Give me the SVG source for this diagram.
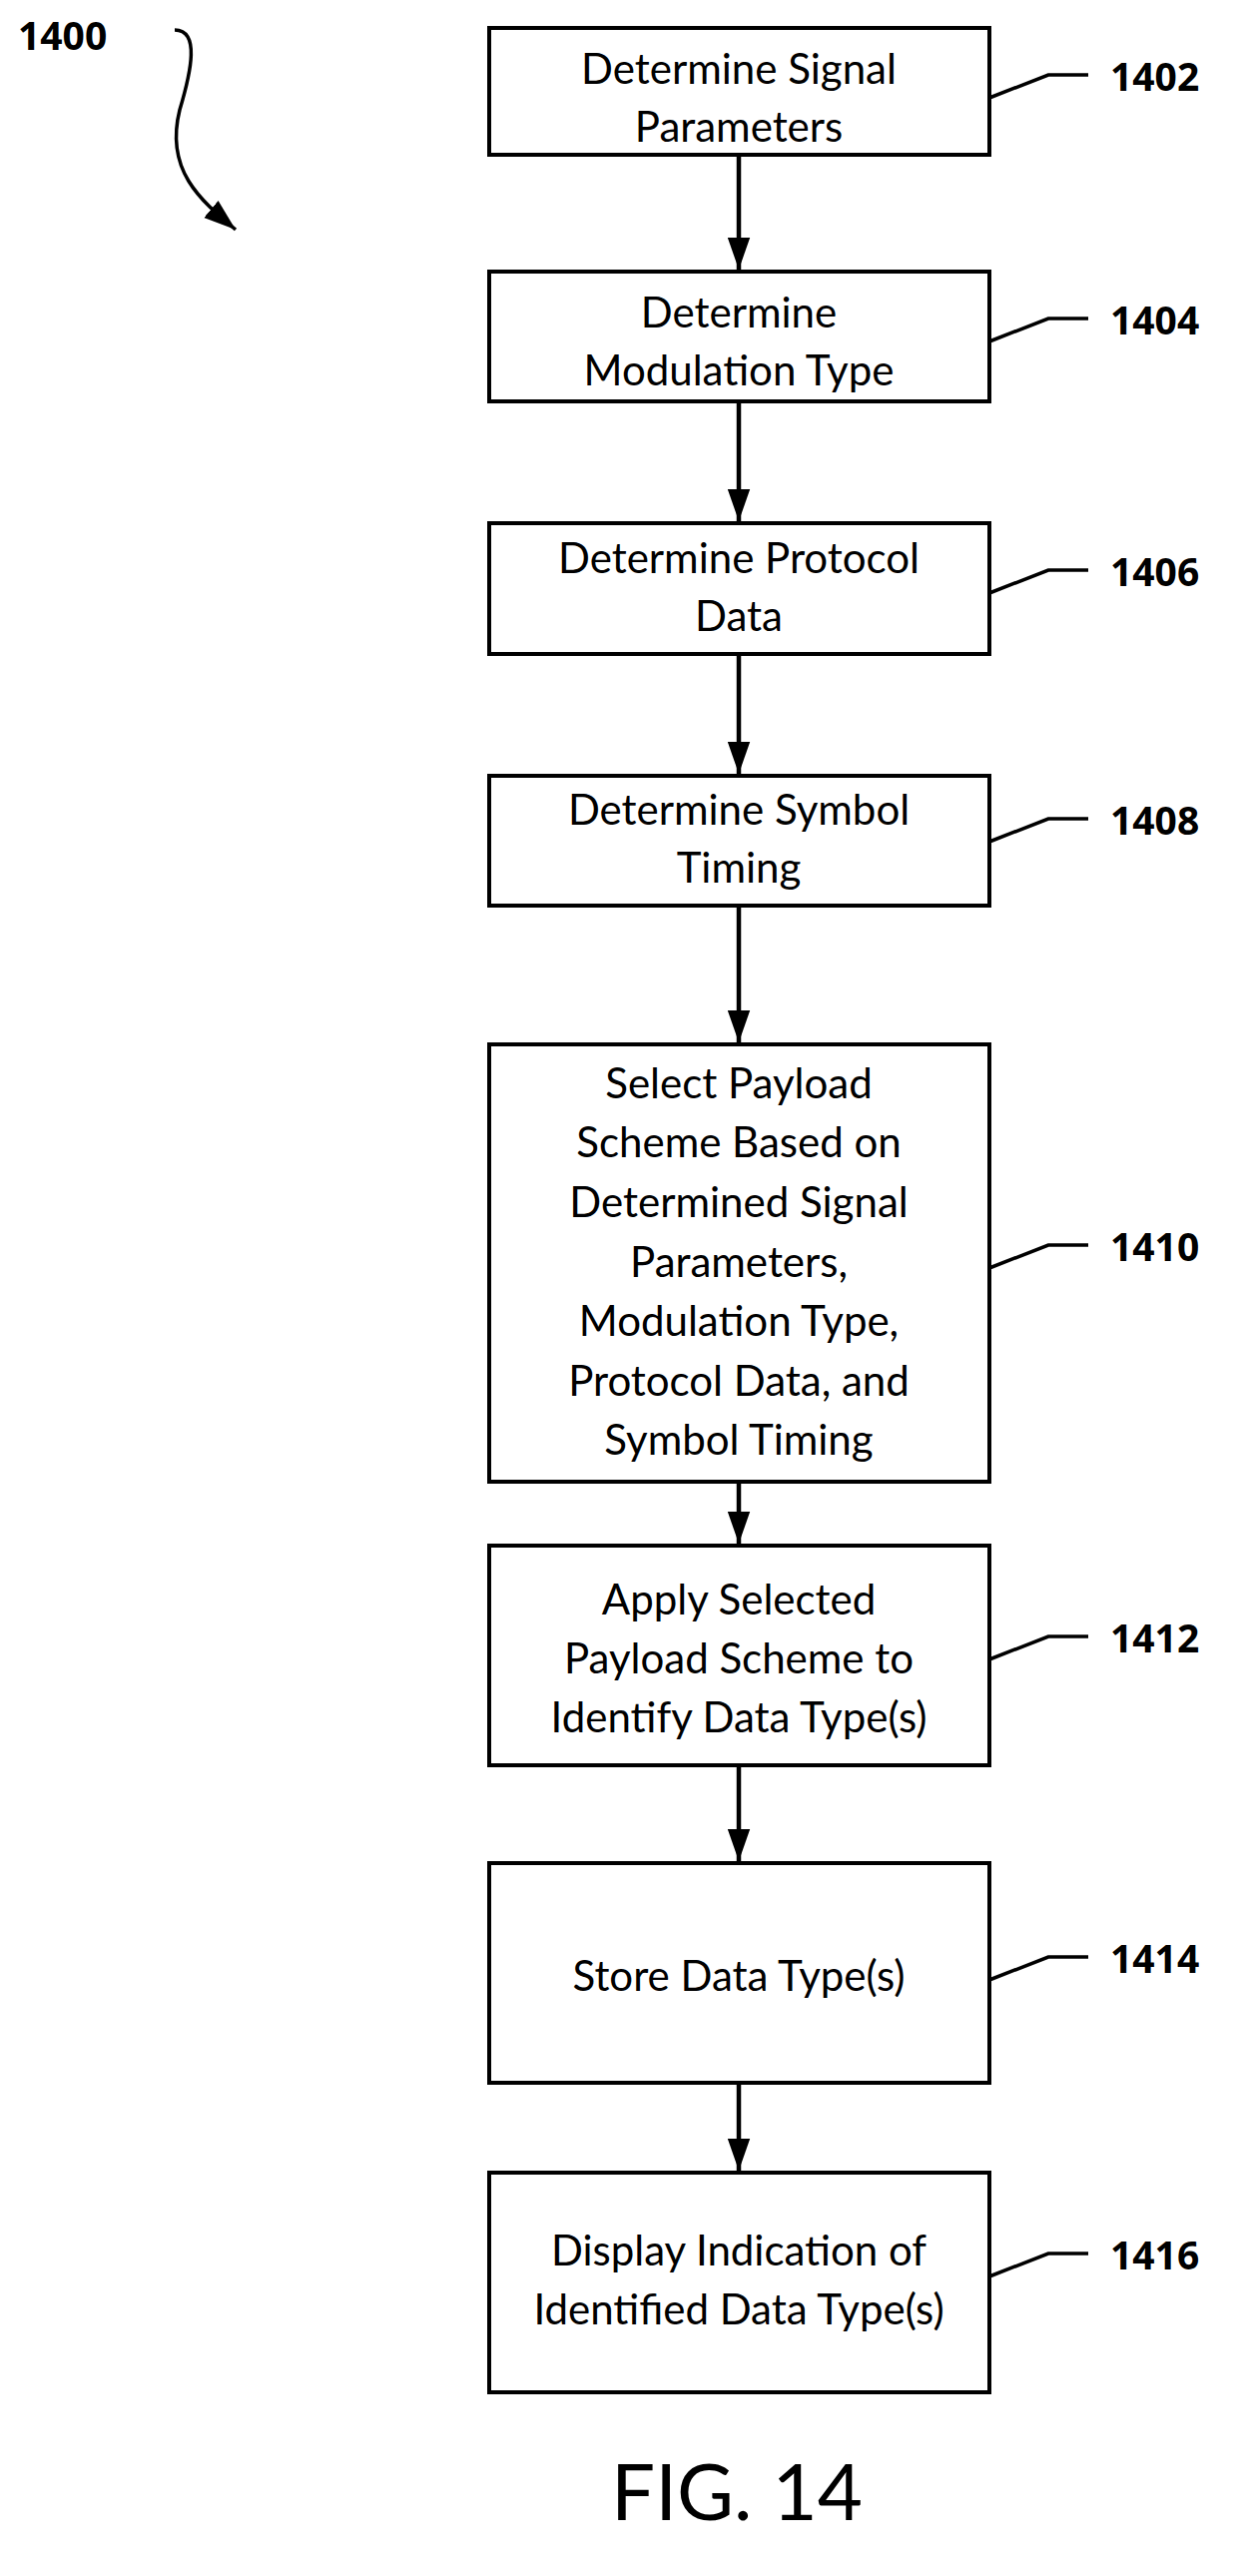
<svg xmlns="http://www.w3.org/2000/svg" width="1245" height="2580" viewBox="0 0 1245 2580">
<style>
.box{fill:#fff;stroke:#000;stroke-width:4}
.t{font-family:Lato,"Open Sans",sans-serif;font-size:42px;text-anchor:middle;fill:#000}
.lb{font-family:"Open Sans","Liberation Sans",sans-serif;font-weight:bold;font-size:39px;fill:#000}
.c{stroke:#000;stroke-width:4.5;fill:none}
.ld{stroke:#000;stroke-width:3.5;fill:none}
</style>
<defs>
<marker id="a" viewBox="0 0 10 10" refX="10" refY="5" markerWidth="32" markerHeight="32" markerUnits="userSpaceOnUse" orient="auto"><path d="M0,1.5 L10,5 L0,8.5 z" fill="#000"/></marker></defs>
<rect width="1245" height="2580" fill="#fff"/>
<g id="connectors">
<path class="c" marker-end="url(#a)" d="M740,155 V270"/>
<path class="c" marker-end="url(#a)" d="M740,402 V522"/>
<path class="c" marker-end="url(#a)" d="M740,655 V775"/>
<path class="c" marker-end="url(#a)" d="M740,907 V1044"/>
<path class="c" marker-end="url(#a)" d="M740,1484 V1546"/>
<path class="c" marker-end="url(#a)" d="M740,1768 V1864"/>
<path class="c" marker-end="url(#a)" d="M740,2086 V2174"/>
<path class="ld" marker-end="url(#a)" d="M175,30 C200,30 192,70 180,110 C165,170 200,200 236,230"/>
</g>
<text class="lb" x="18" y="50">1400</text>
<g id="n1402"><rect class="box" x="490" y="28" width="501" height="127"/><text class="t" x="740" y="84">Determine Signal</text><text class="t" x="740" y="142">Parameters</text><path class="ld" d="M991,98 L1050,75 H1090"/><text class="lb" x="1112" y="91">1402</text></g>
<g id="n1404"><rect class="box" x="490" y="272" width="501" height="130"/><text class="t" x="740" y="328">Determine</text><text class="t" x="740" y="386">Modulation Type</text><path class="ld" d="M991,342 L1050,319 H1090"/><text class="lb" x="1112" y="335">1404</text></g>
<g id="n1406"><rect class="box" x="490" y="524" width="501" height="131"/><text class="t" x="740" y="574">Determine Protocol</text><text class="t" x="740" y="632">Data</text><path class="ld" d="M991,594 L1050,571 H1090"/><text class="lb" x="1112" y="587">1406</text></g>
<g id="n1408"><rect class="box" x="490" y="777" width="501" height="130"/><text class="t" x="740" y="826">Determine Symbol</text><text class="t" x="740" y="884">Timing</text><path class="ld" d="M991,843 L1050,820 H1090"/><text class="lb" x="1112" y="836">1408</text></g>
<g id="n1410"><rect class="box" x="490" y="1046" width="501" height="438"/>
<text class="t" x="740" y="1100">Select Payload</text><text class="t" x="740" y="1159">Scheme Based on</text><text class="t" x="740" y="1219">Determined Signal</text><text class="t" x="740" y="1279">Parameters,</text><text class="t" x="740" y="1338">Modulation Type,</text><text class="t" x="740" y="1398">Protocol Data, and</text><text class="t" x="740" y="1457">Symbol Timing</text>
<path class="ld" d="M991,1270 L1050,1247 H1090"/><text class="lb" x="1112" y="1263">1410</text></g>
<g id="n1412"><rect class="box" x="490" y="1548" width="501" height="220"/><text class="t" x="740" y="1617">Apply Selected</text><text class="t" x="740" y="1676">Payload Scheme to</text><text class="t" x="740" y="1735">Identify Data Type(s)</text><path class="ld" d="M991,1662 L1050,1639 H1090"/><text class="lb" x="1112" y="1655">1412</text></g>
<g id="n1414"><rect class="box" x="490" y="1866" width="501" height="220"/><text class="t" x="740" y="1994">Store Data Type(s)</text><path class="ld" d="M991,1983 L1050,1960 H1090"/><text class="lb" x="1112" y="1976">1414</text></g>
<g id="n1416"><rect class="box" x="490" y="2176" width="501" height="220"/><text class="t" x="740" y="2269">Display Indication of</text><text class="t" x="740" y="2328">Identified Data Type(s)</text><path class="ld" d="M991,2280 L1050,2257 H1090"/><text class="lb" x="1112" y="2273">1416</text></g>
<text x="738" y="2524" style="font-family:Lato,'Open Sans',sans-serif;font-size:78px;text-anchor:middle">FIG. 14</text>
</svg>
